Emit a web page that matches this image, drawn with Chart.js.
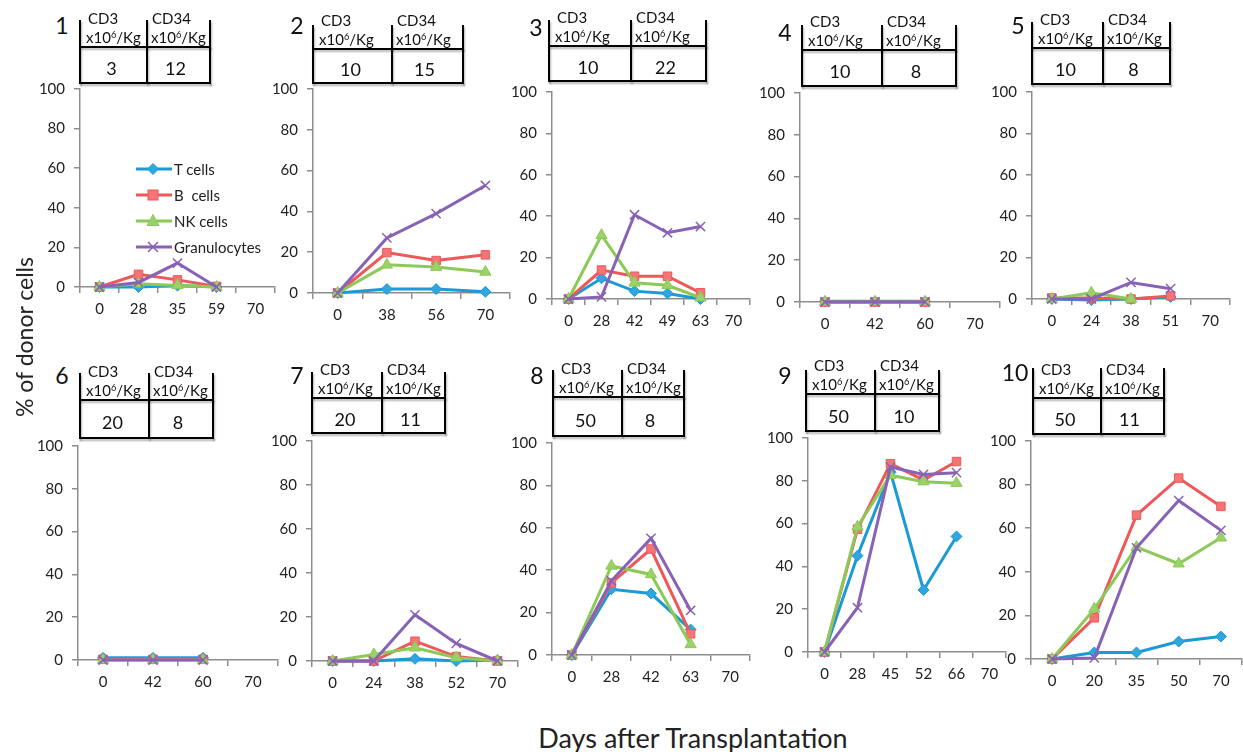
<!DOCTYPE html>
<html><head><meta charset="utf-8">
<script src="https://cdn.jsdelivr.net/npm/chart.js@4.4.1/dist/chart.umd.min.js"></script>
<style>
html,body{margin:0;padding:0;}
body{width:1243px;height:752px;overflow:hidden;background:#fff;position:relative;font-family:Lato,"Open Sans",sans-serif;color:#111;}
.t{position:absolute;white-space:nowrap;}
.ln{position:absolute;background:#000;box-shadow:1px 2px 2px rgba(0,0,0,0.3);}
sup{font-size:0.62em;vertical-align:0.55em;line-height:0;}
</style></head><body>
<script>
// ---- DATA ----
const seriesNames = ['T cells', 'B  cells', 'NK cells', 'Granulocytes'];
const cd3Values  = [3, 10, 10, 10, 10, 20, 20, 50, 50, 50];
const cd34Values = [12, 15, 22, 8, 8, 8, 11, 8, 10, 11];

const days1 = ['0','28','35','59','70'];
const t1  = [0, 0, 0.7, 0];
const b1  = [0, 6.4, 3.6, 0.3];
const nk1 = [0, 1.6, 0.8, 0];
const gr1 = [0, 2.3, 12.1, 0];

const days2 = ['0','38','56','70'];
const t2  = [0, 1.9, 1.9, 0.6];
const b2  = [0, 19.8, 15.9, 18.7];
const nk2 = [0, 13.8, 12.7, 10.3];
const gr2 = [0, 27, 38.9, 52.7];

const days3 = ['0','28','42','49','63','70'];
const t3  = [0, 10, 3.8, 2.7, 0];
const b3  = [0, 14, 11, 11, 3];
const nk3 = [0, 30.8, 7.8, 6.6, 0.6];
const gr3 = [0, 1, 40.7, 32, 35];

const days4 = ['0','42','60','70'];
const t4  = [0.3, 0.3, 0.3];
const b4  = [0, 0, 0];
const nk4 = [0, 0, 0];
const gr4 = [0, 0, 0];

const days5 = ['0','24','38','51','70'];
const t5  = [0, -0.5, 0, 1];
const b5  = [0.5, 0.5, 0, 1.5];
const nk5 = [0, 3, 0];
const gr5 = [0, 0, 8, 5];

const days6 = ['0','42','60','70'];
const t6  = [1, 1, 1];
const b6  = [0.3, 0.3, 0.3];
const nk6 = [0, 0, 0];
const gr6 = [0, 0, 0];

const days7 = ['0','24','38','52','70'];
const t7  = [0, 0, 1, 0, 0.5];
const b7  = [0, 0, 9, 2, 0];
const nk7 = [0, 3, 6, 1.5, 0];
const gr7 = [0, 0, 21, 8, 0];

const days8 = ['0','28','42','63','70'];
const t8  = [0, 31, 29, 12];
const b8  = [0, 34, 50, 10];
const nk8 = [0, 42, 38, 5];
const gr8 = [0, 35, 55, 21];

const days9 = ['0','28','45','52','66','70'];
const t9  = [0, 45, 84, 29, 54];
const b9  = [0, 57.4, 88, 80.4, 89];
const nk9 = [0, 58.5, 82.6, 79.6, 78.9];
const gr9 = [0, 20.7, 86.4, 83, 83.8];

const days10 = ['0','20','35','50','70'];
const t10  = [0, 3, 3, 8, 10.3];
const b10  = [0, 18.9, 66, 83, 70];
const nk10 = [0, 23, 51.3, 43.7, 55.6];
const gr10 = [0, 0.5, 51, 72.7, 59];

const yTicks = [0, 20, 40, 60, 80, 100];

const panels = [
  {days: days1,  vals: [t1, b1, nk1, gr1]},
  {days: days2,  vals: [t2, b2, nk2, gr2]},
  {days: days3,  vals: [t3, b3, nk3, gr3]},
  {days: days4,  vals: [t4, b4, nk4, gr4]},
  {days: days5,  vals: [t5, b5, nk5, gr5]},
  {days: days6,  vals: [t6, b6, nk6, gr6]},
  {days: days7,  vals: [t7, b7, nk7, gr7]},
  {days: days8,  vals: [t8, b8, nk8, gr8]},
  {days: days9,  vals: [t9, b9, nk9, gr9]},
  {days: days10, vals: [t10, b10, nk10, gr10]}
];

// ---- LAYOUT / STYLE ----
const layout = [
 {ax:80,   right:279,  top:83,  bottom:287, num:[62,25],   tbl:[80,147,210,20,47,83]},
 {ax:313,  right:514,  top:83,  bottom:293, num:[297,25],  tbl:[313,392,463,25,49,83]},
 {ax:552,  right:754,  top:86,  bottom:299, num:[536,27],  tbl:[549,631,706,20,46,81]},
 {ax:800,  right:1004, top:87,  bottom:302, num:[785,32],  tbl:[802,882,956,25,50,86]},
 {ax:1032, right:1234, top:86,  bottom:299, num:[1018,25], tbl:[1032,1103,1170,22,48,84]},
 {ax:78,   right:282,  top:440, bottom:660, num:[62,375],  tbl:[80,149,213,373,400,438]},
 {ax:312,  right:522,  top:435, bottom:661, num:[297,375], tbl:[312,382,445,372,398,433]},
 {ax:552,  right:754,  top:437, bottom:655, num:[537,375], tbl:[553,622,684,370,397,436]},
 {ax:808,  right:1010, top:432, bottom:652, num:[785,375], tbl:[806,875,939,370,394,431]},
 {ax:1031, right:1246, top:435, bottom:659, num:[1015,372],tbl:[1033,1101,1164,368,398,434]}
];
const styles = [
  {color:'#1b9ad6', fill:'#2fa6df', point:'rectRot',  radius:5.5, bw:1},
  {color:'#ef5858', fill:'#f47575', point:'rect',     radius:6,   bw:1},
  {color:'#8cc957', fill:'#9bd168', point:'triangle', radius:6.5, bw:1},
  {color:'#8862b6', fill:'#8862b6', point:'crossRot', radius:6.5, bw:1.5}
];
const axisColor = '#8d8d8d';
const FONT = 'Lato';

function addText(html, x, y, size, center, extra) {
  const d = document.createElement('div');
  d.className = 't';
  d.innerHTML = html;
  d.style.fontSize = size + 'px';
  d.style.lineHeight = Math.round(size * 1.2) + 'px';
  d.style.top = (y - size * 0.6) + 'px';
  d.style.left = x + 'px';
  if (center) d.style.transform = 'translateX(-50%)';
  if (extra) Object.assign(d.style, extra);
  document.body.appendChild(d);
  return d;
}
function addLine(x1, y1, x2, y2) {
  const d = document.createElement('div');
  d.className = 'ln';
  const th = 2.5;
  if (x1 === x2) {
    d.style.left = (x1 - th/2) + 'px'; d.style.top = y1 + 'px';
    d.style.width = th + 'px'; d.style.height = (y2 - y1 + th/2) + 'px';
  } else {
    d.style.left = (x1 - th/2) + 'px'; d.style.top = (y1 - th/2) + 'px';
    d.style.width = (x2 - x1 + th) + 'px'; d.style.height = th + 'px';
  }
  document.body.appendChild(d);
}

function makeChart(i) {
  const L = layout[i];
  const padTop = 12, padRight = 4, yw = 45, xh = 32;
  const W = L.right - L.ax + yw + padRight;
  const H = L.bottom - L.top + padTop + xh;
  const cv = document.createElement('canvas');
  cv.width = W; cv.height = H;
  cv.style.cssText = `position:absolute;left:${L.ax - yw}px;top:${L.top - padTop}px;width:${W}px;height:${H}px;`;
  document.body.appendChild(cv);
  const P = panels[i];
  const datasets = P.vals.map((v, k) => ({
    label: seriesNames[k],
    data: v,
    borderColor: styles[k].color,
    backgroundColor: styles[k].fill,
    pointStyle: styles[k].point,
    pointRadius: styles[k].radius,
    pointBorderWidth: styles[k].bw,
    pointBorderColor: styles[k].color,
    pointBackgroundColor: styles[k].fill,
    borderWidth: 3,
    tension: 0,
    fill: false,
    clip: false,
    order: 3 - k
  }));
  new Chart(cv, {
    type: 'line',
    data: {labels: P.days, datasets},
    options: {
      responsive: false, animation: false, devicePixelRatio: 1,
      layout: {padding: {top: padTop, right: padRight, left: 0, bottom: 0}},
      plugins: {legend: {display: false}, tooltip: {enabled: false}},
      scales: {
        x: {
          type: 'category', offset: true,
          grid: {offset: true, drawOnChartArea: false, drawTicks: true, tickLength: 6, color: axisColor, lineWidth: 1.5},
          border: {color: axisColor, width: 1.5},
          ticks: {padding: 7, color: '#222', font: {family: FONT, size: 15}, maxRotation: 0, autoSkip: false},
          afterFit: s => { s.height = xh; }
        },
        y: {
          min: 0, max: 100,
          afterBuildTicks: s => { s.ticks = yTicks.map(v => ({value: v})); },
          grid: {drawOnChartArea: false, drawTicks: true, tickLength: 6, color: axisColor, lineWidth: 1.5},
          border: {color: axisColor, width: 1.5},
          ticks: {padding: 9, color: '#222', font: {family: FONT, size: 15}},
          afterFit: s => { s.width = yw; }
        }
      }
    }
  });

  // panel number + dose table
  addText(String(i + 1), L.num[0], L.num[1], 23, true);
  const [l, m, r, t, mid, b] = L.tbl;
  addLine(l, t, l, b); addLine(m, t, m, b); addLine(r, t, r, b);
  addLine(l, mid, r, mid); addLine(l, b, r, b);
  addText('CD3', l + 8, mid - 29, 15);
  addText('x10<sup>6</sup>/Kg', l + 6, mid - 10, 15);
  addText('CD34', m + 5, mid - 29, 15);
  addText('x10<sup>6</sup>/Kg', m + 4, mid - 10, 15);
  addText(String(cd3Values[i]), (l + m) / 2 - 2, (mid + b) / 2 + 3, 18, true);
  addText(String(cd34Values[i]), (m + r) / 2 - 3, (mid + b) / 2 + 3, 18, true);
}

for (let i = 0; i < panels.length; i++) makeChart(i);

// legend (inside panel 1)
const legendRows = [169, 195, 221, 247];
seriesNames.forEach((name, k) => {
  const y = legendRows[k];
  const s = styles[k];
  const svgNS = 'http://www.w3.org/2000/svg';
  const svg = document.createElementNS(svgNS, 'svg');
  svg.setAttribute('width', 40); svg.setAttribute('height', 16);
  svg.style.cssText = `position:absolute;left:134px;top:${y - 8}px;overflow:visible;`;
  const ln = document.createElementNS(svgNS, 'line');
  ln.setAttribute('x1', 2); ln.setAttribute('x2', 38); ln.setAttribute('y1', 8); ln.setAttribute('y2', 8);
  ln.setAttribute('stroke', s.color); ln.setAttribute('stroke-width', 3);
  svg.appendChild(ln);
  let mk;
  const cx = 19, cy = 8;
  if (s.point === 'rectRot') {
    mk = document.createElementNS(svgNS, 'polygon');
    mk.setAttribute('points', `${cx},${cy-5.5} ${cx+5.5},${cy} ${cx},${cy+5.5} ${cx-5.5},${cy}`);
    mk.setAttribute('fill', s.fill); mk.setAttribute('stroke', s.color);
  } else if (s.point === 'rect') {
    mk = document.createElementNS(svgNS, 'rect');
    mk.setAttribute('x', cx - 5); mk.setAttribute('y', cy - 5); mk.setAttribute('width', 10); mk.setAttribute('height', 10);
    mk.setAttribute('fill', s.fill); mk.setAttribute('stroke', s.color);
  } else if (s.point === 'triangle') {
    mk = document.createElementNS(svgNS, 'polygon');
    mk.setAttribute('points', `${cx},${cy-6.5} ${cx+6},${cy+4.5} ${cx-6},${cy+4.5}`);
    mk.setAttribute('fill', s.fill); mk.setAttribute('stroke', s.color);
  } else {
    mk = document.createElementNS(svgNS, 'path');
    mk.setAttribute('d', `M${cx-5},${cy-5}L${cx+5},${cy+5}M${cx+5},${cy-5}L${cx-5},${cy+5}`);
    mk.setAttribute('stroke', s.color); mk.setAttribute('stroke-width', 1.5);
  }
  svg.appendChild(mk);
  document.body.appendChild(svg);
  addText(name.replace(/  /g, '&nbsp; '), 174, y, 15, false, {color: '#222'});
});

// axis titles
addText('Days after Transplantation', 693, 738, 27, true, {color: '#222'});
const yt = addText('% of donor cells', 24, 337, 23, false, {color: '#222'});
yt.style.left = '24px';
yt.style.transform = 'translate(-50%, 0) rotate(-90deg)';
yt.style.transformOrigin = '50% 50%';
</script>
</body></html>
